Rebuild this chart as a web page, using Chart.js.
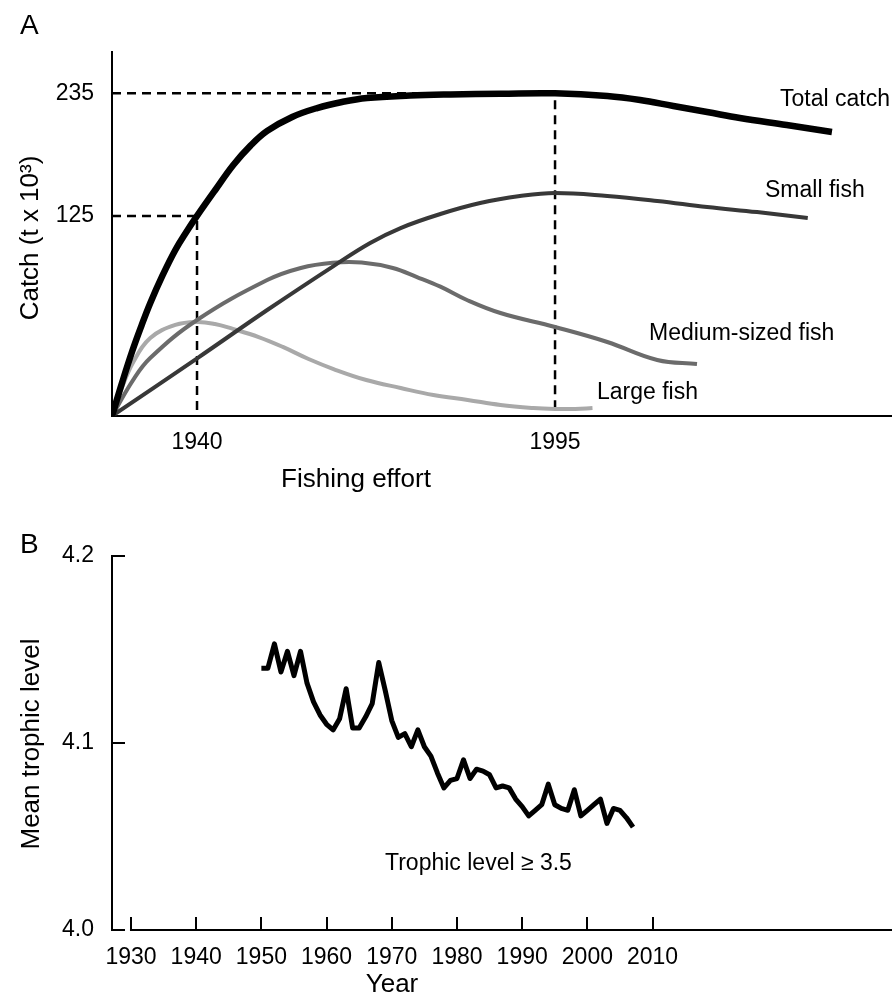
<!DOCTYPE html>
<html><head><meta charset="utf-8">
<script src="https://cdn.jsdelivr.net/npm/chart.js@4.4.1/dist/chart.umd.min.js"></script>
<style>
html,body{margin:0;padding:0;background:#fff;width:892px;height:999px;overflow:hidden}
canvas{position:absolute;left:0}
#ca{top:0}
#cb{top:500px}
</style></head><body>
<canvas id="ca" width="892" height="500"></canvas>
<canvas id="cb" width="892" height="499"></canvas>
<script>
// ---------- Panel A (schematic: fishing effort index 0-100, catch) ----------
const effortTotal  = [0, 1.32, 2.6, 3.76, 4.91, 6.45, 8.12, 9.53, 10.9, 13.24, 15.55, 17.73, 19.9, 23.1, 26.3, 29.5, 32.7, 38.2, 43.4, 49.8, 56.8, 63.5, 67.7, 71.97, 76.3, 80.5, 86.5, 92.3];
const catchTotal   = [0, 24.8, 47.3, 65.5, 82.3, 102, 120.9, 134, 145.7, 164.6, 182.8, 196.7, 207.6, 217.8, 224.3, 228.7, 231.6, 233.4, 234.2, 234.7, 235, 233.1, 230.2, 225.8, 221.4, 217, 211.9, 206.8];
const effortSmall  = [0, 10.96, 19.9, 28.4, 33.1, 37.0, 42.1, 47.2, 52.3, 56.8, 63.5, 69.9, 76.3, 82.7, 89.2];
const catchSmall   = [0, 42.2, 77.2, 109.2, 126, 136.9, 147.1, 155.1, 160.2, 162.4, 160.2, 156.6, 152.2, 148.5, 144.2];
const effortMedium = [0, 2.7, 4.9, 10.9, 19.9, 24.2, 28.3, 32.0, 36.0, 39.1, 42.1, 45.5, 49.8, 56.8, 63.5, 69.9, 75];
const catchMedium  = [0, 26.2, 42.2, 69.9, 99, 107.8, 111.6, 111.8, 107.8, 101.2, 94.2, 84.5, 75, 64.8, 53.9, 40.8, 37.9];
const effortLarge  = [0, 1.06, 2.73, 4.91, 8.12, 10.9, 13.2, 15.5, 18.8, 21.9, 25.2, 28.4, 32.6, 37.0, 41.2, 45.6, 49.8, 54.0, 56.8, 59.4, 61.6];
const catchLarge   = [0, 17.5, 39.3, 56.8, 66.3, 68.5, 67, 63.4, 57.5, 50.3, 41.5, 34.2, 26.2, 20.4, 15.3, 11.7, 8.0, 5.8, 5.1, 5.1, 5.8];
const effortTickValues = [10.9, 56.8];
const effortTickLabels = ['1940', '1995'];
const catchTickValues  = [145.7, 235];
const catchTickLabels  = ['125', '235'];

// ---------- Panel B ----------
const years = [1950,1951,1952,1953,1954,1955,1956,1957,1958,1959,1960,1961,1962,1963,1964,1965,1966,1967,1968,1969,
               1970,1971,1972,1973,1974,1975,1976,1977,1978,1979,1980,1981,1982,1983,1984,1985,1986,1987,1988,1989,
               1990,1991,1992,1993,1994,1995,1996,1997,1998,1999,2000,2001,2002,2003,2004,2005,2006,2007];
const trophicLevel = [4.140,4.140,4.153,4.138,4.149,4.136,4.149,4.132,4.122,4.115,4.110,4.107,4.113,4.129,4.108,4.108,4.114,4.121,4.143,4.128,
                      4.112,4.103,4.105,4.098,4.107,4.098,4.093,4.084,4.076,4.080,4.081,4.091,4.081,4.086,4.085,4.083,4.076,4.077,4.076,4.070,
                      4.066,4.061,4.064,4.067,4.078,4.067,4.065,4.064,4.075,4.061,4.064,4.067,4.070,4.057,4.065,4.064,4.060,4.055];
const yearTicks = [1930,1940,1950,1960,1970,1980,1990,2000,2010];
const trophicTicks = [4.0, 4.1, 4.2];
const trophicTickLabels = ['4.0', '4.1', '4.2'];

const FONT = "'Liberation Sans', Arial, sans-serif";
Chart.defaults.font.family = FONT;
Chart.defaults.color = '#000';

const zip = (xs, ys) => xs.map((x, i) => ({x: x, y: ys[i]}));
const dashA = i => [
  {x: 0, y: catchTickValues[i]},
  {x: effortTickValues[i], y: catchTickValues[i]},
  {x: effortTickValues[i], y: 0}
];

const textA = {
  id: 'textA',
  afterDraw(chart) {
    const ctx = chart.ctx;
    ctx.save();
    ctx.fillStyle = '#000';
    ctx.textBaseline = 'middle';
    ctx.textAlign = 'left';
    ctx.font = '28px ' + FONT;
    ctx.fillText('A', 20, 26);
    ctx.font = '23px ' + FONT;
    ctx.fillText('Total catch', 780, 100);
    ctx.fillText('Small fish', 765, 191);
    ctx.fillText('Medium-sized fish', 649, 334);
    ctx.fillText('Large fish', 597, 393);
    ctx.textAlign = 'center';
    ctx.font = '26px ' + FONT;
    ctx.fillText('Fishing effort', 356, 480);
    ctx.translate(31, 238);
    ctx.rotate(-Math.PI / 2);
    ctx.fillText('Catch (t x 10\u00B3)', 0, 0);
    ctx.restore();
  }
};

new Chart(document.getElementById('ca'), {
  type: 'line',
  data: {
    datasets: [
      {data: zip(effortTotal, catchTotal), borderColor: '#000', borderWidth: 6.5},
      {data: zip(effortSmall, catchSmall), borderColor: '#383838', borderWidth: 4},
      {data: zip(effortMedium, catchMedium), borderColor: '#6b6b6b', borderWidth: 4},
      {data: zip(effortLarge, catchLarge), borderColor: '#a9a9a9', borderWidth: 4},
      {data: dashA(0), borderColor: '#000', borderWidth: 2.5, borderDash: [9, 6], tension: 0},
      {data: dashA(1), borderColor: '#000', borderWidth: 2.5, borderDash: [9, 6], tension: 0}
    ]
  },
  options: {
    responsive: false, animation: false, events: [],
    layout: {padding: {top: 52, left: 0, right: 0, bottom: 0}},
    plugins: {legend: {display: false}, tooltip: {enabled: false}},
    elements: {point: {radius: 0}, line: {tension: 0.4, borderCapStyle: 'butt', fill: false}},
    scales: {
      x: {
        type: 'linear', min: 0, max: 100,
        grid: {display: false, drawTicks: false},
        border: {display: true, color: '#000', width: 2},
        afterBuildTicks: s => { s.ticks = effortTickValues.map(v => ({value: v})); },
        ticks: {padding: 13, color: '#000', font: {size: 23}, maxRotation: 0, autoSkip: false,
                callback: (v, i) => effortTickLabels[i]},
        afterFit: s => { s.height = 84; }
      },
      y: {
        type: 'linear', min: 0, max: 265.1,
        grid: {display: false, drawTicks: false},
        border: {display: true, color: '#000', width: 2},
        afterBuildTicks: s => { s.ticks = catchTickValues.map(v => ({value: v})); },
        ticks: {padding: 18, color: '#000', font: {size: 23}, autoSkip: false,
                callback: (v, i) => catchTickLabels[i]},
        afterFit: s => { s.width = 112; }
      }
    }
  },
  plugins: [textA]
});

const axesB = {
  id: 'axesB',
  afterDraw(chart) {
    const ctx = chart.ctx;
    const x = chart.scales.x, y = chart.scales.y, area = chart.chartArea;
    ctx.save();
    ctx.strokeStyle = '#000';
    ctx.lineWidth = 2;
    ctx.lineCap = 'butt';
    const yb = y.getPixelForValue(trophicTicks[0]);
    ctx.beginPath();
    ctx.moveTo(x.getPixelForValue(yearTicks[0]) - 1, yb);
    ctx.lineTo(area.right, yb);
    yearTicks.forEach(v => {
      const px = Math.round(x.getPixelForValue(v));
      ctx.moveTo(px, yb);
      ctx.lineTo(px, yb - 13);
    });
    trophicTicks.forEach(v => {
      const py = Math.round(y.getPixelForValue(v));
      ctx.moveTo(area.left, py);
      ctx.lineTo(area.left + 13, py);
    });
    ctx.stroke();
    ctx.fillStyle = '#000';
    ctx.textBaseline = 'middle';
    ctx.textAlign = 'left';
    ctx.font = '28px ' + FONT;
    ctx.fillText('B', 20, 45);
    ctx.font = '23px ' + FONT;
    ctx.fillText('Trophic level \u2265 3.5', 385, 364);
    ctx.textAlign = 'center';
    ctx.font = '26px ' + FONT;
    ctx.fillText('Year', 392, 485);
    ctx.translate(32, 244);
    ctx.rotate(-Math.PI / 2);
    ctx.fillText('Mean trophic level', 0, 0);
    ctx.restore();
  }
};

new Chart(document.getElementById('cb'), {
  type: 'line',
  data: {
    datasets: [
      {data: zip(years, trophicLevel), borderColor: '#000', borderWidth: 5, tension: 0,
       borderJoinStyle: 'round', borderCapStyle: 'butt', pointRadius: 0, fill: false}
    ]
  },
  options: {
    responsive: false, animation: false, events: [],
    layout: {padding: {top: 56, left: 0, right: 0, bottom: 0}},
    plugins: {legend: {display: false}, tooltip: {enabled: false}},
    scales: {
      x: {
        type: 'linear', min: 1927.09, max: 2046.72,
        grid: {display: false, drawTicks: false},
        border: {display: false},
        afterBuildTicks: s => { s.ticks = yearTicks.map(v => ({value: v})); },
        ticks: {padding: 14, color: '#000', font: {size: 23}, maxRotation: 0, autoSkip: false,
                callback: (v, i) => String(yearTicks[i])},
        afterFit: s => { s.height = 69; }
      },
      y: {
        type: 'linear', min: 4.0, max: 4.2,
        grid: {display: false, drawTicks: false},
        border: {display: true, color: '#000', width: 2},
        afterBuildTicks: s => { s.ticks = trophicTicks.map(v => ({value: v})); },
        ticks: {padding: 18, color: '#000', font: {size: 23}, autoSkip: false,
                callback: (v, i) => trophicTickLabels[i]},
        afterFit: s => { s.width = 112; }
      }
    }
  },
  plugins: [axesB]
});
</script>
</body></html>
